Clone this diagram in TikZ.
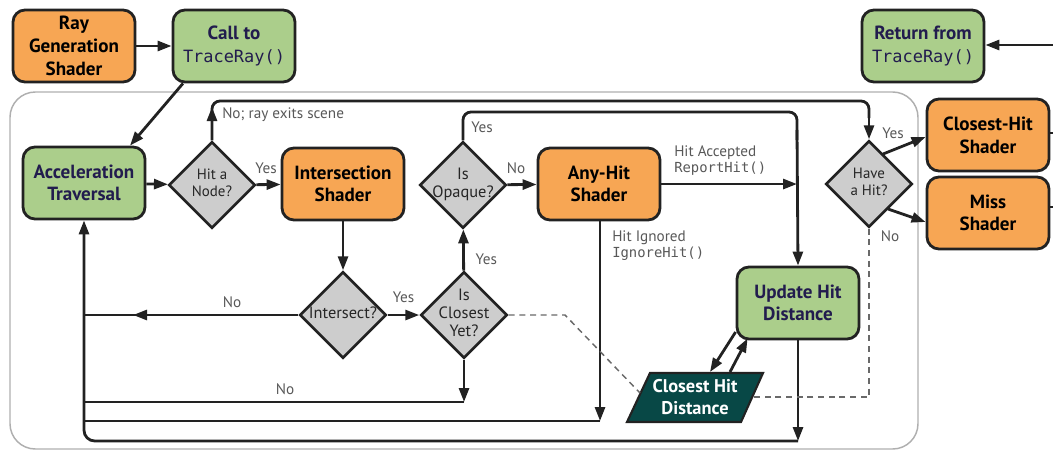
\documentclass[tikz,border=0pt]{standalone}
\usepackage{fontspec}
\setmainfont{PT Sans}
\setmonofont{DejaVu Sans Mono}
\usetikzlibrary{arrows.meta,shapes.geometric,calc}

\definecolor{edge}{RGB}{34,34,34}
\definecolor{boxorange}{RGB}{247,166,84}
\definecolor{boxgreen}{RGB}{171,206,139}
\definecolor{navytext}{RGB}{34,28,78}
\definecolor{decgrey}{RGB}{205,205,205}
\definecolor{storeteal}{RGB}{8,72,70}
\definecolor{labelgrey}{RGB}{88,88,88}
\definecolor{framegrey}{RGB}{175,175,175}
\definecolor{dashgrey}{RGB}{105,105,105}

\newcommand{\procfont}{\fontsize{14.3pt}{17pt}\selectfont\bfseries}
\newcommand{\decfont}{\fontsize{12.3pt}{13.5pt}\selectfont}
\newcommand{\decfontsmall}{\fontsize{11.2pt}{12.8pt}\selectfont}
\newcommand{\lblfont}{\fontsize{11.4pt}{11.5pt}\selectfont}
\newcommand{\codefont}{\mdseries\ttfamily\fontsize{12.7pt}{17pt}\selectfont}
\newcommand{\lblcode}{\ttfamily\fontsize{10.4pt}{11.5pt}\selectfont}
\newcommand{\decisiontext}[1]{\makebox[0pt]{\begin{tabular}{@{}c@{}}#1\end{tabular}}}

\begin{document}
\begin{tikzpicture}[x=0.75pt,y=-0.75pt,
  procbox/.style={draw=edge, line width=2.1pt, rounded corners=9pt,
    minimum width=91.5pt, minimum height=54pt, align=center,
    inner sep=0pt, font=\procfont},
  orangebox/.style={procbox, fill=boxorange, text=black},
  greenbox/.style={procbox, fill=boxgreen, text=navytext},
  decision/.style={diamond, draw=edge, line width=2.1pt, fill=decgrey,
    minimum width=65pt, minimum height=65pt, inner sep=0pt,
    text=black!85, font=\decfont},
  conn/.style={draw=edge, line width=2.1pt},
  arr/.style={conn, -{Triangle[length=10.5pt,width=7.5pt]}},
  lbl/.style={font=\lblfont, text=labelgrey, inner sep=0pt},
  dashline/.style={draw=dashgrey, line width=1.1pt, dash pattern=on 4.5pt off 3.5pt},
  store/.style={fill=storeteal, draw=edge, line width=1.6pt, line join=miter},
]
\useasboundingbox (0,0) rectangle (1053,450);

% frame around the traversal loop
\draw[draw=framegrey, line width=1.1pt, rounded corners=19pt] (10,92) rectangle (918,449);

% nodes outside the loop
\node[orangebox] (raygen) at (74,46) {Ray\\Generation\\Shader};
\node[greenbox] (callto) at (234,46) {Call to\\{\codefont TraceRay()}};
\node[greenbox] (retfrom) at (923,46) {Return from\\{\codefont TraceRay()}};

% traversal loop
\node[greenbox] (accel) at (84,183) {Acceleration\\Traversal};
\node[decision, font=\decfontsmall] (hitnode) at (212,185) {\decisiontext{Hit a\\Node?}};
\node[orangebox] (isect) at (343,184) {Intersection\\Shader};
\node[decision] (opaque) at (463,185) {\decisiontext{Is\\Opaque?}};
\node[orangebox] (anyhit) at (599,184) {Any-Hit\\Shader};
\node[decision] (intersect) at (343,315) {\decisiontext{Intersect?}};
\node[decision] (closest) at (464,315) {\decisiontext{Is\\Closest\\Yet?}};
\node[greenbox] (update) at (798,303) {Update Hit\\Distance};
\node[decision, font=\decfontsmall] (have) at (869,184) {\decisiontext{Have\\a Hit?}};
\node[orangebox] (closesthit) at (988,135) {Closest-Hit\\Shader};
\node[orangebox] (miss) at (988,213) {Miss\\Shader};

% stored closest hit distance (parallelogram)
\coordinate (pTL) at (650,373);
\coordinate (pTR) at (763,373);
\coordinate (pBR) at (741,422);
\coordinate (pBL) at (627,422);
\draw[store] (pTL) -- (pTR) -- (pBR) -- (pBL) -- cycle;
\node[font=\fontsize{13.8pt}{16.5pt}\selectfont\bfseries, text=white, align=center, inner sep=0pt]
  (chd) at (695,397.5) {Closest Hit\\Distance};

% connectors outside the loop
\draw[arr] (raygen) -- (callto);
\draw[arr] ($(callto.south)+(-51,0)$) -- ($(accel.north)+(46,0)$);
\draw[arr] (1053,45) -- (retfrom.east |- 0,45);
\draw[conn] (closesthit.east |- 0,133) -- (1053,133);
\draw[conn] (miss.east |- 0,207) -- (1053,207);

% main row
\draw[arr] (accel) -- (hitnode);
\draw[arr] (hitnode) -- (isect) node[lbl, pos=0.4, above=7pt] {Yes};
\draw[arr] (opaque) -- (anyhit) node[lbl, pos=0.3, above=7pt] {No};

% ray exits the scene
\draw[conn, rounded corners=6pt] (hitnode.north) -- (212,101) -- (869,101) -- (869,118);
\draw[arr] (869,112) -- (have.north);
\draw[arr] (hitnode.north) -- (212,107);
\node[lbl, anchor=west] at (222,115) {No; ray exits scene};

% opaque hit accepted directly
\draw[conn, rounded corners=6pt] (opaque.north) -- (463,112) -- (797,112) -- (797,140);
\draw[arr] (797,130) -- (update.north);
\node[lbl] at (482,127) {Yes};

% any-hit outcomes
\draw[arr] (anyhit.east) -- (797,184);
\node[lbl, anchor=north west, align=left] at (674,145)
  {Hit Accepted\\[1pt]{\lblcode ReportHit()}};
\draw[arr] (anyhit.south -| 600,0) -- (600,421);
\node[lbl, anchor=north west, align=left] at (612,230)
  {Hit Ignored\\[1pt]{\lblcode IgnoreHit()}};

% intersection tests
\draw[arr] (isect) -- (intersect);
\draw[arr] (intersect) -- (closest) node[lbl, midway, above=8pt] {Yes};
\draw[arr] (closest) -- (opaque) node[lbl, pos=0.28, right=8pt] {Yes};
\draw[conn] (intersect.west) -- (84,315);
\draw[arr] (intersect.west) -- (133,315);
\node[lbl] at (232,302) {No};
\draw[arr] (closest.south) -- (464,402);
\draw[conn] (464,402) -- (84,402);
\node[lbl] at (285,389) {No};
\draw[conn] (600,421) -- (84,421);

% return path to traversal
\draw[arr] (update.south) -- (798,441);
\draw[arr, rounded corners=8pt] (798,441) -- (84,441) -- (accel.south);

% closest hit distance read/write
\draw[arr] ($(update.west)+(0,29)$) -- ($(pTL)+(60,-1)$);
\draw[arr] ($(pTL)+(80,-1)$) -- ($(update.south west)+(12,-2)$);

% dashed data links
\draw[dashline] (closest.east) -- (565,315) -- (640,393);
\draw[dashline] (have.south) -- (869,397) -- (752,397);

% have a hit?
\draw[arr] (883,154) -- (closesthit.west |- 0,137);
\draw[arr] (888,209) -- (miss.west |- 0,222);
\node[lbl] at (893,133) {Yes};
\node[lbl] at (890,236) {No};
\end{tikzpicture}
\end{document}
